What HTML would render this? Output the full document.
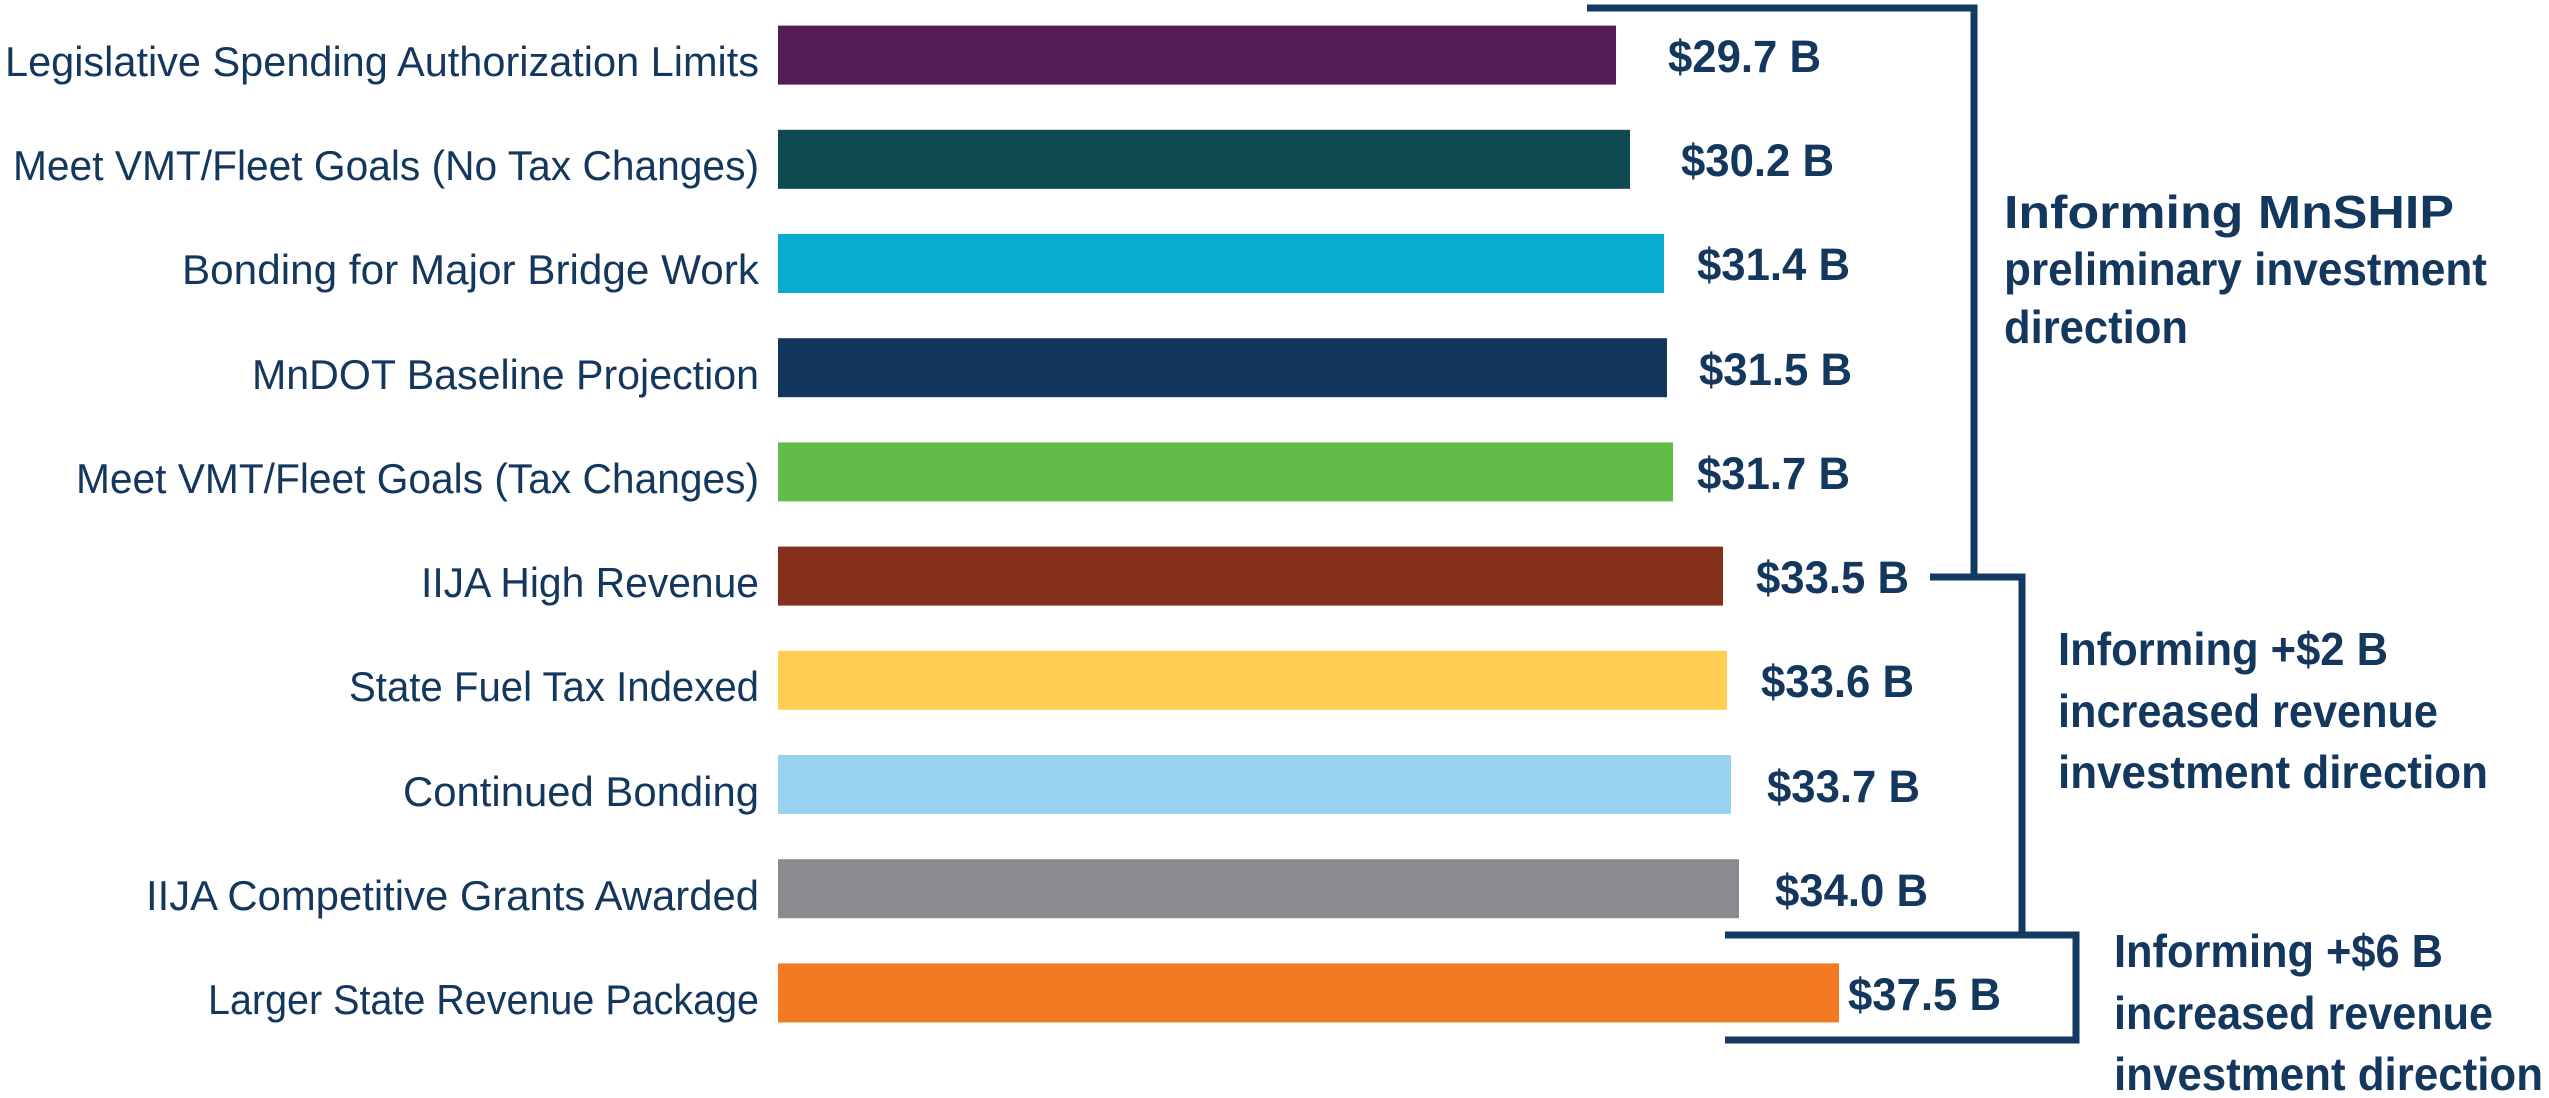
<!DOCTYPE html>
<html><head><meta charset="utf-8"><style>
html,body{margin:0;padding:0;background:#fff;}
svg{display:block;}
.c{font-family:"Liberation Sans",sans-serif;font-size:42px;fill:#14375e;}
.v{font-family:"Liberation Sans",sans-serif;font-size:45px;font-weight:bold;fill:#14375e;}
.a{font-family:"Liberation Sans",sans-serif;font-size:46px;font-weight:bold;fill:#14375e;}
</style></head><body>
<svg width="2549" height="1098" viewBox="0 0 2549 1098" xmlns="http://www.w3.org/2000/svg">
<g>
<rect x="778" y="25.6" width="838" height="59" fill="#521c56"/>
<rect x="778" y="129.8" width="852" height="59" fill="#0f4a50"/>
<rect x="778" y="234" width="886" height="59" fill="#09abcf"/>
<rect x="778" y="338.2" width="889" height="59" fill="#13365e"/>
<rect x="778" y="442.4" width="895" height="59" fill="#62bc47"/>
<rect x="778" y="546.6" width="945" height="59" fill="#84301d"/>
<rect x="778" y="650.8" width="949" height="59" fill="#ffce52"/>
<rect x="778" y="755" width="953" height="59" fill="#97d3f1"/>
<rect x="778" y="859.2" width="961" height="59" fill="#898b8e"/>
<rect x="778" y="963.4" width="1061" height="59" fill="#f37a22"/>
</g>
<g class="c" text-anchor="end">
<text x="759" y="76" textLength="754" lengthAdjust="spacingAndGlyphs">Legislative Spending Authorization Limits</text>
<text x="759" y="180" textLength="746" lengthAdjust="spacingAndGlyphs">Meet VMT/Fleet Goals (No Tax Changes)</text>
<text x="759" y="284" textLength="577" lengthAdjust="spacingAndGlyphs">Bonding for Major Bridge Work</text>
<text x="759" y="389" textLength="507" lengthAdjust="spacingAndGlyphs">MnDOT Baseline Projection</text>
<text x="759" y="493" textLength="683" lengthAdjust="spacingAndGlyphs">Meet VMT/Fleet Goals (Tax Changes)</text>
<text x="759" y="597" textLength="338" lengthAdjust="spacingAndGlyphs">IIJA High Revenue</text>
<text x="759" y="701" textLength="410" lengthAdjust="spacingAndGlyphs">State Fuel Tax Indexed</text>
<text x="759" y="806" textLength="356" lengthAdjust="spacingAndGlyphs">Continued Bonding</text>
<text x="759" y="910" textLength="613" lengthAdjust="spacingAndGlyphs">IIJA Competitive Grants Awarded</text>
<text x="759" y="1014" textLength="551" lengthAdjust="spacingAndGlyphs">Larger State Revenue Package</text>
</g>
<g class="v">
<text x="1668" y="72" textLength="153" lengthAdjust="spacingAndGlyphs">$29.7 B</text>
<text x="1681" y="176" textLength="153" lengthAdjust="spacingAndGlyphs">$30.2 B</text>
<text x="1697" y="280" textLength="153" lengthAdjust="spacingAndGlyphs">$31.4 B</text>
<text x="1699" y="385" textLength="153" lengthAdjust="spacingAndGlyphs">$31.5 B</text>
<text x="1697" y="489" textLength="153" lengthAdjust="spacingAndGlyphs">$31.7 B</text>
<text x="1756" y="593" textLength="153" lengthAdjust="spacingAndGlyphs">$33.5 B</text>
<text x="1761" y="697" textLength="153" lengthAdjust="spacingAndGlyphs">$33.6 B</text>
<text x="1767" y="802" textLength="153" lengthAdjust="spacingAndGlyphs">$33.7 B</text>
<text x="1775" y="906" textLength="153" lengthAdjust="spacingAndGlyphs">$34.0 B</text>
<text x="1848" y="1010" textLength="153" lengthAdjust="spacingAndGlyphs">$37.5 B</text>
</g>
<g fill="none" stroke="#133a60" stroke-width="7">
<polyline points="1587,8 1974,8 1974,577 1930,577"/>
<polyline points="1974,577 2022,577 2022,935"/>
<polyline points="1725,935 2076,935 2076,1040 1725,1040"/>
</g>
<g class="a">
<text x="2004" y="228" textLength="450" lengthAdjust="spacingAndGlyphs">Informing MnSHIP</text>
<text x="2004" y="285" textLength="483" lengthAdjust="spacingAndGlyphs">preliminary investment</text>
<text x="2004" y="343" textLength="184" lengthAdjust="spacingAndGlyphs">direction</text>
<text x="2058" y="665" textLength="330" lengthAdjust="spacingAndGlyphs">Informing +$2 B</text>
<text x="2058" y="727" textLength="380" lengthAdjust="spacingAndGlyphs">increased revenue</text>
<text x="2058" y="788" textLength="430" lengthAdjust="spacingAndGlyphs">investment direction</text>
<text x="2114" y="967" textLength="329" lengthAdjust="spacingAndGlyphs">Informing +$6 B</text>
<text x="2114" y="1029" textLength="379" lengthAdjust="spacingAndGlyphs">increased revenue</text>
<text x="2114" y="1090" textLength="429" lengthAdjust="spacingAndGlyphs">investment direction</text>
</g>
</svg>
</body></html>
